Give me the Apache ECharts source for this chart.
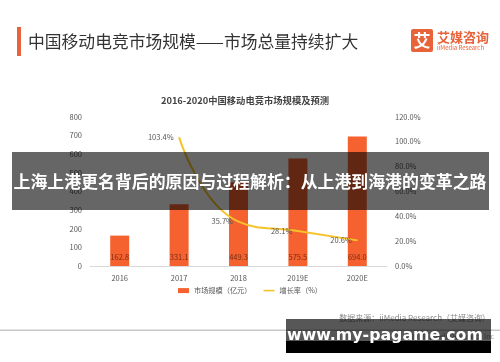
<!DOCTYPE html>
<html><head><meta charset="utf-8">
<script src="https://cdn.jsdelivr.net/npm/echarts@6/dist/echarts.min.js"></script>
<style>html,body{margin:0;padding:0;background:#fff}#c{width:500px;height:362px}</style>
</head><body><div id="c"></div>
<script>
var categories = ['2016', '2017', '2018', '2019E', '2020E'];
var marketSize = [162.8, 331.1, 449.3, 575.5, 694.0];
var growthRate = ['-', 103.4, 35.7, 28.1, 20.6];
var leftTicks = [0, 100, 200, 300, 400, 500, 600, 700, 800];
var rightTicks = [0, 20, 40, 60, 80, 100, 120];

var F = '"Noto Sans CJK SC", "Noto Sans", sans-serif';
var chart = echarts.init(document.getElementById('c'));
chart.setOption({
  animation: false,
  textStyle: { fontFamily: F },
  grid: { left: 90, right: 113, top: 116.7, bottom: 96 },
  legend: {
    top: 282, left: 'center', itemGap: 12,
    itemWidth: 11, itemHeight: 5, symbolKeepAspect: true,
    textStyle: { fontSize: 7.2, color: '#555', fontFamily: F },
    data: [{ name: '市场规模（亿元）', icon: 'rect' },
           { name: '增长率（%）', icon: 'path://M0,0 L11,0 L11,1.6 L0,1.6 Z' }]
  },
  xAxis: {
    type: 'category', data: categories,
    axisLine: { lineStyle: { color: '#d9d9d9', width: 1 } },
    axisTick: { show: false },
    axisLabel: { color: '#555', fontSize: 7.5, margin: 8 }
  },
  yAxis: [{
    type: 'value', min: leftTicks[0], max: leftTicks[leftTicks.length - 1], interval: 100,
    axisLine: { show: false }, axisTick: { show: false }, splitLine: { show: false },
    axisLabel: { color: '#555', fontSize: 7.5, margin: 8 }
  }, {
    type: 'value', min: rightTicks[0], max: rightTicks[rightTicks.length - 1], interval: 20,
    axisLine: { show: false }, axisTick: { show: false }, splitLine: { show: false },
    axisLabel: { color: '#555', fontSize: 7.5, margin: 8, formatter: function (v) { return v.toFixed(1) + '%'; } }
  }],
  series: [{
    name: '市场规模（亿元）', type: 'bar', data: marketSize, barWidth: 19,
    itemStyle: { color: '#f5612f' },
    label: { show: true, position: 'insideBottom', distance: 5, color: '#7a2e14', fontSize: 7.5,
      formatter: function (p) { return p.value.toFixed(1); } }
  }, {
    name: '增长率（%）', type: 'line', yAxisIndex: 1, data: growthRate, smooth: true,
    symbol: 'circle', symbolSize: 1, showSymbol: true,
    lineStyle: { color: '#f7c22a', width: 2 }, itemStyle: { color: '#f7c22a' },
    label: { show: true, position: 'left', distance: 5, color: '#555', fontSize: 7.5,
      formatter: function (p) { return p.value.toFixed(1) + '%'; } }
  }],
  graphic: [
    { type: 'rect', shape: { x: 17, y: 27, width: 4, height: 29 }, style: { fill: '#e8623a' } },
    { type: 'text', style: { x: 28, y: 42, text: '中国移动电竞市场规模——市场总量持续扩大', font: '16.8px ' + F, fill: '#333', verticalAlign: 'middle' } },
    { type: 'rect', shape: { x: 411, y: 29, width: 22, height: 23, r: 2 }, style: { fill: '#e8623a' } },
    { type: 'text', style: { x: 422, y: 40.5, text: '艾', font: 'bold 17px ' + F, fill: '#fff', align: 'center', verticalAlign: 'middle' } },
    { type: 'text', style: { x: 437, y: 37, text: '艾媒咨询', font: 'bold 13px ' + F, fill: '#e8623a', verticalAlign: 'middle' } },
    { type: 'text', style: { x: 437, y: 48, text: 'iiMedia Research', font: '6px ' + F, fill: '#e8623a', verticalAlign: 'middle' } },
    { type: 'text', style: { x: 245, y: 100, text: '2016-2020中国移动电竞市场规模及预测', font: 'bold 9.3px ' + F, fill: '#444', align: 'center', verticalAlign: 'middle' } },
    { type: 'text', style: { x: 490, y: 318, text: '数据来源：iiMedia Research（艾媒咨询）', font: '8px ' + F, fill: '#888', align: 'right', verticalAlign: 'middle' } },
    { type: 'rect', shape: { x: 0, y: 329.5, width: 500, height: 1.5 }, style: { fill: '#c8c8c8' } },
    { type: 'text', style: { x: 494, y: 336, text: '©2019 iiMedia Research Inc', font: '7px ' + F, fill: '#999', align: 'right', verticalAlign: 'middle' } },
    { type: 'rect', z: 100, shape: { x: 12, y: 152, width: 477, height: 58 }, style: { fill: 'rgba(0,0,0,0.6)' } },
    { type: 'text', z: 101, style: { x: 250, y: 182, text: '上海上港更名背后的原因与过程解析：从上港到海港的变革之路', font: 'bold 16.9px ' + F, fill: '#fff', align: 'center', verticalAlign: 'middle' } },
    { type: 'rect', z: 100, shape: { x: 286, y: 319, width: 205, height: 22 }, style: { fill: 'rgba(0,0,0,0.66)' } },
    { type: 'rect', z: 100, shape: { x: 286, y: 341, width: 205, height: 12 }, style: { fill: '#000' } },
    { type: 'text', z: 101, style: { x: 385, y: 336, text: 'www.my-pagame.com', font: 'bold 15.8px "DejaVu Sans", sans-serif', fill: '#fff', align: 'center', verticalAlign: 'middle' } }
  ]
});
</script></body></html>
